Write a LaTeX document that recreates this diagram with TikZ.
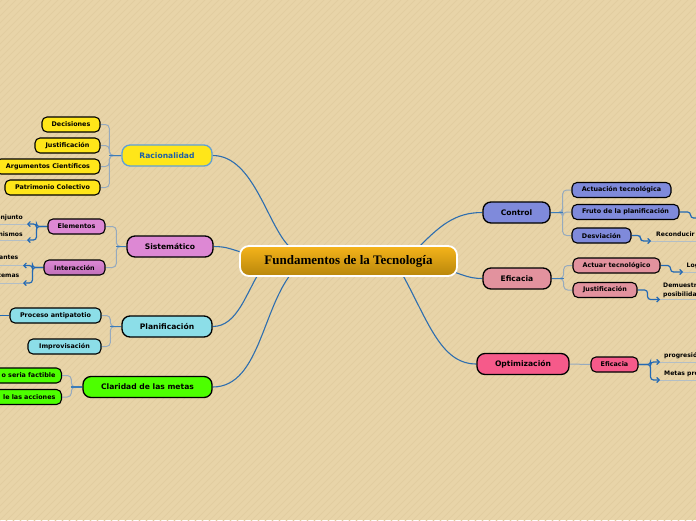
\documentclass[tikz,border=0pt]{standalone}
\usepackage{fontspec}
\setmainfont{DejaVu Sans}
\newfontfamily\titlefont{Liberation Serif}
\usetikzlibrary{arrows.meta}
\pgfdeclarelayer{bgl}
\pgfdeclarelayer{lines}
\pgfsetlayers{bgl,lines,main}
\definecolor{bgc}{RGB}{232,212,168}
\definecolor{stripec}{RGB}{226,205,160}
\definecolor{connc}{RGB}{46,110,175}
\definecolor{stemc}{RGB}{60,125,185}
\definecolor{brkc}{RGB}{150,170,190}
\definecolor{arrc}{RGB}{35,105,180}
\definecolor{ulc}{RGB}{178,190,198}
\definecolor{yel}{RGB}{255,230,25}
\definecolor{orch}{RGB}{221,136,212}
\definecolor{orchd}{RGB}{192,112,186}
\definecolor{cya}{RGB}{140,222,232}
\definecolor{grn}{RGB}{77,255,0}
\definecolor{vio}{RGB}{127,138,219}
\definecolor{pnk}{RGB}{226,146,158}
\definecolor{hpk}{RGB}{246,90,138}
\definecolor{goldt}{RGB}{245,180,26}
\definecolor{goldb}{RGB}{184,134,11}
\definecolor{racb}{RGB}{95,160,215}
\definecolor{ract}{RGB}{30,95,168}
\tikzset{
  centralnode/.style={draw=white, line width=1.8pt, rounded corners=9pt, top color=goldt, bottom color=goldb,
    minimum width=217pt, minimum height=30pt, inner sep=0pt, font=\titlefont\bfseries\fontsize{13}{15}\selectfont},
  mainnode/.style={draw=black, line width=1.3pt, rounded corners=8pt, minimum height=21pt, inner sep=0pt,
    font=\bfseries\fontsize{7.6}{9}\selectfont, text=black},
  subnode/.style={draw=black, line width=1.1pt, rounded corners=5pt, minimum height=15pt, inner sep=0pt,
    font=\bfseries\fontsize{6.4}{7.5}\selectfont, text=black},
  conn/.style={draw=connc, line width=1.1pt},
  brk/.style={draw=brkc, line width=1pt, rounded corners=4pt},
  stem/.style={draw=stemc, line width=1.1pt},
  arrline/.style={draw=arrc, line width=1.2pt, rounded corners=3pt},
  arr/.style={arrline, -{Straight Barb[length=2.5pt,width=5pt]}},
  uline/.style={draw=ulc, line width=0.9pt},
  lt/.style={font=\bfseries\fontsize{6.1}{7.5}\selectfont, inner sep=0pt, text=black},
}
\begin{document}
\begin{tikzpicture}[x=1pt,y=-1pt]
\useasboundingbox (0,0) rectangle (696,520);
\clip (0,0) rectangle (696,520);
\begin{pgfonlayer}{bgl}
\fill[bgc] (0,0) rectangle (696,520);
\foreach \i in {0,7,...,1230} { \draw[stripec, line width=0.8pt] (\i-530,525) -- (\i,-5); }
\end{pgfonlayer}

% central
\node[centralnode] (c) at (348.5,261) {Fundamentos de la Tecnología};

% main nodes
\node[mainnode, fill=yel, draw=racb, text=ract, minimum width=90pt] (rac) at (167,155.5) {Racionalidad};
\node[mainnode, fill=orch, minimum width=86pt] (sis) at (170,246.5) {Sistemático};
\node[mainnode, fill=cya, minimum width=90pt] (pla) at (167,326.5) {Planificación};
\node[mainnode, fill=grn, minimum width=129pt] (cla) at (147.5,387) {Claridad de las metas};
\node[mainnode, fill=vio, minimum width=67pt] (ctl) at (516.5,212.5) {Control};
\node[mainnode, fill=pnk, minimum width=68pt] (efi) at (517,278.5) {Eficacia};
\node[mainnode, fill=hpk, minimum width=92pt] (opt) at (523,364) {Optimización};

% Racionalidad children
\node[subnode, fill=yel, minimum width=58pt] (dec) at (71,124.5) {Decisiones};
\node[subnode, fill=yel, minimum width=65pt] (jus) at (67.5,145.5) {Justificación};
\node[subnode, fill=yel, minimum width=104pt] (arg) at (48,166.5) {Argumentos Científicos};
\node[subnode, fill=yel, minimum width=95pt] (pat) at (52.5,187.5) {Patrimonio Colectivo};

% Sistematico children
\node[subnode, fill=orch, minimum width=57pt] (ele) at (76.5,226.5) {Elementos};
\node[subnode, top color=orch, bottom color=orchd, minimum width=61pt] (int) at (74.5,267.5) {Interacción};

% Planificacion children
\node[subnode, fill=cya, minimum width=91pt] (pro) at (55.5,315.5) {Proceso antipatotio};
\node[subnode, fill=cya, minimum width=73pt] (imp) at (64.5,346.5) {Improvisación};

% Claridad children
\node[subnode, fill=grn, anchor=east, inner xsep=6pt, text width=84pt, align=right] (fac) at (62,375.5) {o seria factible};
\node[subnode, fill=grn, anchor=east, inner xsep=6pt, text width=84pt, align=right] (acc) at (62,397) {le las acciones};

% Control children
\node[subnode, fill=vio, minimum width=99pt] (act) at (621.5,190) {Actuación tecnológica};
\node[subnode, fill=vio, minimum width=107pt] (fru) at (625.5,212) {Fruto de la planificación};
\node[subnode, fill=vio, minimum width=59pt] (des) at (601.5,235.5) {Desviación};

% Eficacia children
\node[subnode, fill=pnk, minimum width=87pt] (atu) at (616.5,265.5) {Actuar tecnológico};
\node[subnode, fill=pnk, minimum width=64pt] (jur) at (605,290) {Justificación};

% Optimizacion child
\node[subnode, fill=hpk, minimum width=47pt] (ef2) at (614.5,364.5) {Eficacia};

% line topics (left)
\coordinate (e1) at (27,224);
\coordinate (e2) at (27,240);
\node[lt, anchor=east] (te1) at (23,217.5) {onjunto};
\node[lt, anchor=east] (te2) at (23,234) {nismos};
\coordinate (i1) at (23,265.5);
\coordinate (i2) at (23,283);
\node[lt, anchor=east] (ti1) at (18.5,257) {antes};
\node[lt, anchor=east] (ti2) at (19.5,275.5) {temas};
\coordinate (pout) at (-10,315.5);

% line topics (right)
\coordinate (fout) at (715,218);
\coordinate (d1) at (651,241);
\node[lt, anchor=west] (td1) at (656,234) {Reconducir};
\coordinate (a1) at (683,272);
\node[lt, anchor=west] (ta1) at (686.5,266) {Log};
\coordinate (j1) at (660,299.5);
\node[lt, anchor=west, align=left, font=\bfseries\fontsize{6.1}{8.5}\selectfont] (tj1) at (663,290.5) {Demuestra\\posibilidad};
\coordinate (o1) at (660,362);
\coordinate (o2) at (660,380);
\node[lt, anchor=west] (to1) at (664,355.5) {progresión};
\node[lt, anchor=west] (to2) at (664,373.5) {Metas pro};

\begin{pgfonlayer}{lines}
% main connectors
\draw[conn] (rac.east) .. controls (255,155.5) and (268,230) .. (292,249);
\draw[conn] (sis.east) .. controls (228,246.5) and (232,250) .. (245,253);
\draw[conn] (pla.east) .. controls (238,326.5) and (246,292) .. (262,268);
\draw[conn] (cla.east) .. controls (262,387) and (262,300) .. (298,266);
\draw[conn] (ctl.west) .. controls (455,212.5) and (440,225) .. (414,252);
\draw[conn] (efi.west) .. controls (468,278.5) and (462,274) .. (450,271);
\draw[conn] (opt.west) .. controls (440,364) and (428,320) .. (400,270);

% brackets left
\foreach \n in {dec,jus,arg,pat} { \draw[brk] (rac.west) -- ++(-12,0) |- (\n.east); }
\draw[stem] (rac.west) -- ++(-12,0);
\foreach \n in {ele,int} { \draw[brk] (sis.west) -- ++(-10,0) |- (\n.east); }
\draw[stem] (sis.west) -- ++(-10,0);
\foreach \n in {pro,imp} { \draw[brk] (pla.west) -- ++(-11,0) |- (\n.east); }
\draw[stem] (pla.west) -- ++(-11,0);
\foreach \n in {fac,acc} { \draw[brk] (cla.west) -- ++(-11,0) |- (\n.east); }
\draw[stem] (cla.west) -- ++(-11,0);

% brackets right
\foreach \n in {act,fru,des} { \draw[brk] (ctl.east) -- ++(12,0) |- (\n.west); }
\draw[stem] (ctl.east) -- ++(12,0);
\foreach \n in {atu,jur} { \draw[brk] (efi.east) -- ++(12,0) |- (\n.west); }
\draw[stem] (efi.east) -- ++(12,0);
\draw[brk] (opt.east) -- (ef2.west);

% underlines
\draw[uline] (e1) -- ++(-40,0);
\draw[uline] (e2) -- ++(-40,0);
\draw[uline] (i1) -- ++(-40,0);
\draw[uline] (i2) -- ++(-40,0);
\draw[uline] (d1) -- ++(60,0);
\draw[uline] (a1) -- ++(30,0);
\draw[uline] (j1) -- ++(50,0);
\draw[uline] (o1) -- ++(50,0);
\draw[uline] (o2) -- ++(50,0);

% arrows
\draw[arr] (ele.west) -- ++(-11,0) |- (e1);
\draw[arr] (ele.west) -- ++(-11,0) |- (e2);
\draw[arr] (int.west) -- ++(-11,0) |- (i1);
\draw[arr] (int.west) -- ++(-11,0) |- (i2);
\draw[arrline] (pro.west) -- (pout);
\draw[arrline] (fru.east) -- ++(11,0) |- (fout);
\draw[arr] (des.east) -- ++(9,0) |- (d1);
\draw[arr] (atu.east) -- ++(10,0) |- (a1);
\draw[arr] (jur.east) -- ++(10,0) |- (j1);
\draw[arr] (ef2.east) -- ++(12,0) |- (o1);
\draw[arr] (ef2.east) -- ++(12,0) |- (o2);
\end{pgfonlayer}
\end{tikzpicture}
\end{document}
